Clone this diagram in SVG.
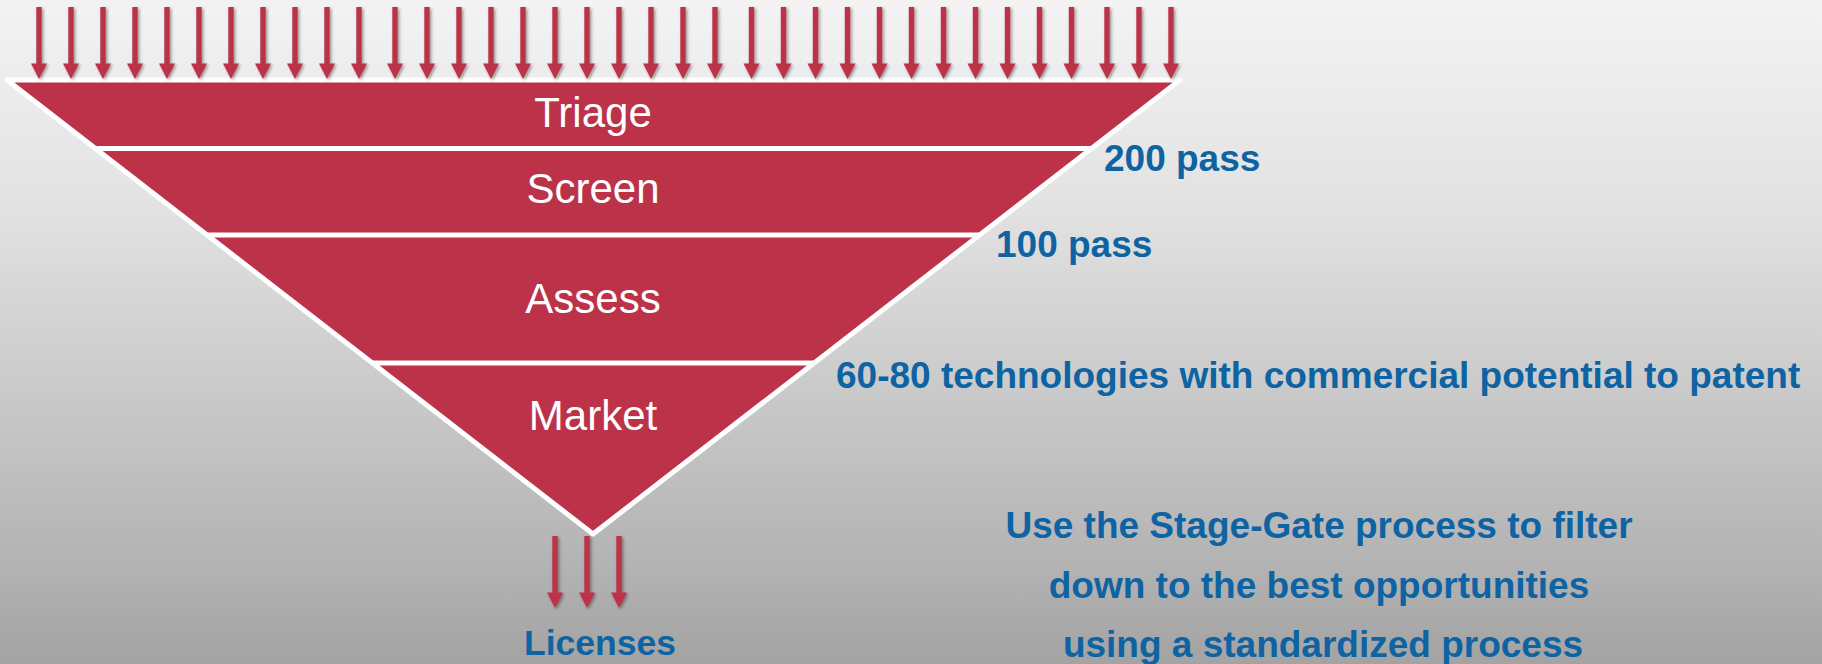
<svg xmlns="http://www.w3.org/2000/svg" xmlns:xlink="http://www.w3.org/1999/xlink" width="1822" height="664" viewBox="0 0 1822 664">
  <defs>
    <linearGradient id="bg" x1="0" y1="0" x2="0" y2="1">
      <stop offset="0" stop-color="#F3F3F3"/>
      <stop offset="0.3" stop-color="#E3E3E3"/>
      <stop offset="0.85" stop-color="#B3B3B3"/>
      <stop offset="1" stop-color="#A3A3A3"/>
    </linearGradient>
    <filter id="shadow" x="-50%" y="-10%" width="200%" height="130%">
      <feDropShadow dx="1.5" dy="1.5" stdDeviation="1.6" flood-color="#000" flood-opacity="0.4"/>
    </filter>
    <path id="arrow" d="M-2.7,0 h5.4 v56.5 h5.3 L0,72 L-8,56.5 h5.3 z"/>
    <style>
      .arr { fill: #BC3249; filter: url(#shadow); }
      .stage { font-family: "Liberation Sans", Arial, sans-serif; font-size: 42px; fill: #FFFFFF; text-anchor: middle; }
      .note { font-family: "Liberation Sans", Arial, sans-serif; font-size: 37px; font-weight: bold; fill: #0E63A3; }
      .sep { stroke: #FFFFFF; stroke-width: 5; }
    </style>
  </defs>

  <rect x="0" y="0" width="1822" height="664" fill="url(#bg)"/>

  <g id="funnel">
    <polygon points="7,80 1180,80 593,534" fill="#BC3249" stroke="#FFFFFF" stroke-width="5" stroke-linejoin="round"/>
    <line class="sep" x1="95" y1="148.5" x2="1091" y2="148.5"/>
    <line class="sep" x1="207" y1="235" x2="979" y2="235"/>
    <line class="sep" x1="372" y1="363" x2="814" y2="363"/>
  </g>

  <g id="stage-triage"><text class="stage" x="593" y="127">Triage</text></g>
  <g id="stage-screen"><text class="stage" x="593" y="203">Screen</text></g>
  <g id="stage-assess"><text class="stage" x="593" y="313">Assess</text></g>
  <g id="stage-market"><text class="stage" x="593" y="430">Market</text></g>

  <g id="connectors">
    <g id="input-arrows">
      <use class="arr" href="#arrow" xlink:href="#arrow" x="39" y="7"/>
      <use class="arr" href="#arrow" xlink:href="#arrow" x="71" y="7"/>
      <use class="arr" href="#arrow" xlink:href="#arrow" x="103" y="7"/>
      <use class="arr" href="#arrow" xlink:href="#arrow" x="135" y="7"/>
      <use class="arr" href="#arrow" xlink:href="#arrow" x="167" y="7"/>
      <use class="arr" href="#arrow" xlink:href="#arrow" x="199" y="7"/>
      <use class="arr" href="#arrow" xlink:href="#arrow" x="231" y="7"/>
      <use class="arr" href="#arrow" xlink:href="#arrow" x="263" y="7"/>
      <use class="arr" href="#arrow" xlink:href="#arrow" x="295" y="7"/>
      <use class="arr" href="#arrow" xlink:href="#arrow" x="327" y="7"/>
      <use class="arr" href="#arrow" xlink:href="#arrow" x="359" y="7"/>
      <use class="arr" href="#arrow" xlink:href="#arrow" x="395" y="7"/>
      <use class="arr" href="#arrow" xlink:href="#arrow" x="427" y="7"/>
      <use class="arr" href="#arrow" xlink:href="#arrow" x="459" y="7"/>
      <use class="arr" href="#arrow" xlink:href="#arrow" x="491" y="7"/>
      <use class="arr" href="#arrow" xlink:href="#arrow" x="523" y="7"/>
      <use class="arr" href="#arrow" xlink:href="#arrow" x="555" y="7"/>
      <use class="arr" href="#arrow" xlink:href="#arrow" x="587" y="7"/>
      <use class="arr" href="#arrow" xlink:href="#arrow" x="619" y="7"/>
      <use class="arr" href="#arrow" xlink:href="#arrow" x="651" y="7"/>
      <use class="arr" href="#arrow" xlink:href="#arrow" x="683" y="7"/>
      <use class="arr" href="#arrow" xlink:href="#arrow" x="715" y="7"/>
      <use class="arr" href="#arrow" xlink:href="#arrow" x="751.5" y="7"/>
      <use class="arr" href="#arrow" xlink:href="#arrow" x="783.5" y="7"/>
      <use class="arr" href="#arrow" xlink:href="#arrow" x="815.5" y="7"/>
      <use class="arr" href="#arrow" xlink:href="#arrow" x="847.5" y="7"/>
      <use class="arr" href="#arrow" xlink:href="#arrow" x="879.5" y="7"/>
      <use class="arr" href="#arrow" xlink:href="#arrow" x="911.5" y="7"/>
      <use class="arr" href="#arrow" xlink:href="#arrow" x="943.5" y="7"/>
      <use class="arr" href="#arrow" xlink:href="#arrow" x="975.5" y="7"/>
      <use class="arr" href="#arrow" xlink:href="#arrow" x="1007.5" y="7"/>
      <use class="arr" href="#arrow" xlink:href="#arrow" x="1039.5" y="7"/>
      <use class="arr" href="#arrow" xlink:href="#arrow" x="1071.5" y="7"/>
      <use class="arr" href="#arrow" xlink:href="#arrow" x="1107" y="7"/>
      <use class="arr" href="#arrow" xlink:href="#arrow" x="1139" y="7"/>
      <use class="arr" href="#arrow" xlink:href="#arrow" x="1171" y="7"/>
    </g>
    <g id="output-arrows">
      <use class="arr" href="#arrow" xlink:href="#arrow" x="555" y="536"/>
      <use class="arr" href="#arrow" xlink:href="#arrow" x="587" y="536"/>
      <use class="arr" href="#arrow" xlink:href="#arrow" x="619" y="536"/>
    </g>
  </g>

  <g id="label-200"><text class="note" x="1104" y="171">200 pass</text></g>
  <g id="label-100"><text class="note" x="996" y="257">100 pass</text></g>
  <g id="label-60-80"><text class="note" x="836" y="388">60-80 technologies with commercial potential to patent</text></g>
  <g id="label-licenses"><text class="note" x="524" y="655" style="font-size:35.5px">Licenses</text></g>
  <g id="summary">
    <text class="note" x="1319" y="538" text-anchor="middle">Use the Stage-Gate process to filter</text>
    <text class="note" x="1319" y="598" text-anchor="middle">down to the best opportunities</text>
    <text class="note" x="1323" y="657" text-anchor="middle">using a standardized process</text>
  </g>
</svg>
